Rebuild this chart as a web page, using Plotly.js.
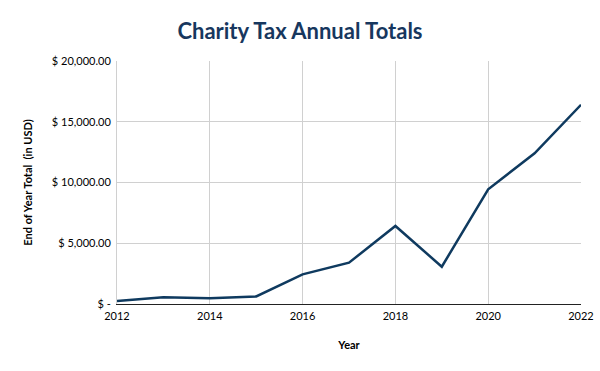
<!DOCTYPE html>
<html>
<head>
<meta charset="utf-8">
<script src="https://cdn.plot.ly/plotly-3.0.1.min.js"></script>
<style>html,body{margin:0;padding:0;background:#fff;}#chart{width:600px;height:371px;}</style>
</head>
<body>
<div id="chart"></div>
<script>
const years = [2012, 2013, 2014, 2015, 2016, 2017, 2018, 2019, 2020, 2021, 2022];
const totals = [250, 560, 470, 620, 2440, 3400, 6420, 3070, 9440, 12400, 16400];
const yTickVals = [0, 5000, 10000, 15000, 20000];
const yTickText = ['$ -', '$ 5,000.00', '$ 10,000.00', '$ 15,000.00', '$ 20,000.00'];
const xTickVals = [2012, 2014, 2016, 2018, 2020, 2022];

const font = 'Lato, "Liberation Sans", sans-serif';
Plotly.newPlot('chart', [{
  x: years, y: totals, type: 'scatter', mode: 'lines',
  line: {color: '#0F3A5F', width: 2.5}, hoverinfo: 'skip'
}], {
  width: 600, height: 371,
  margin: {l: 117, r: 19, t: 61, b: 67},
  paper_bgcolor: '#fff', plot_bgcolor: '#fff',
  font: {family: font, size: 11, color: '#000'},
  title: {text: '<b>Charity Tax Annual Totals</b>', x: 0.5, xanchor: 'center', y: 0.915, yanchor: 'middle',
          font: {family: font, size: 22, color: '#17375E'}},
  xaxis: {
    range: [2012, 2022], tickvals: xTickVals, ticks: '', showgrid: true, gridcolor: '#D0D0D0', gridwidth: 1,
    showline: true, linecolor: '#222', linewidth: 1, zeroline: false, tickfont: {size: 11},
    ticklabelstandoff: 2,
    title: {text: '<b>Year</b>', font: {size: 11}, standoff: 20}
  },
  yaxis: {
    range: [0, 20000], tickvals: yTickVals, ticktext: yTickText, ticks: '', showgrid: true, gridcolor: '#D0D0D0',
    gridwidth: 1, showline: true, linecolor: '#D0D0D0', zeroline: false, tickfont: {size: 11},
    ticklabelstandoff: 3,
    title: {text: '<b>End of Year Total  (in USD)</b>', font: {size: 11}, standoff: 16}
  },
  showlegend: false
}, {displayModeBar: false, staticPlot: true});
</script>
</body>
</html>
